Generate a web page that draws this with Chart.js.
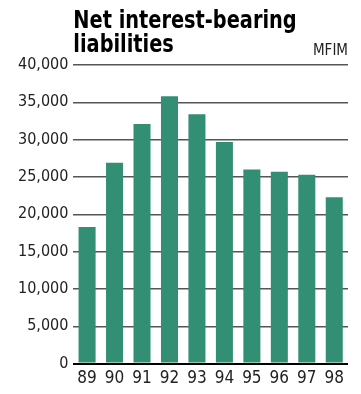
<!DOCTYPE html>
<html>
<head>
<meta charset="utf-8">
<script src="https://cdn.jsdelivr.net/npm/chart.js@4"></script>
<style>
    body { margin: 0; background: #fff; }
    #wrap { position: relative; width: 361px; height: 394px; }
</style>
</head>
<body>
<div id="wrap"><canvas id="debtChart"></canvas></div>
<script>
const years = ["89", "90", "91", "92", "93", "94", "95", "96", "97", "98"];
const liabilities = [18300, 26900, 32100, 35800, 33400, 29700, 26000, 25700, 25300, 22300];
const titleLines = ["Net interest-bearing", "liabilities"];
const unitLabel = "MFIM";

const narrow = "'DejaVu Sans Condensed', 'Liberation Sans Narrow', sans-serif";

// title + unit drawn above the plot, tied to the chart area
const headerPlugin = {
    id: "header",
    afterDraw(chart) {
        const { ctx, chartArea } = chart;
        ctx.save();
        ctx.fillStyle = "#000";
        ctx.textBaseline = "alphabetic";
        ctx.textAlign = "left";
        ctx.font = "bold 25px " + narrow;
        // squeeze horizontally, the original face is very condensed
        ctx.translate(chartArea.left, 0);
        ctx.scale(0.86, 1);
        titleLines.forEach((line, i) => {
            ctx.fillText(line, 0, 28 + i * 24);
        });
        ctx.restore();

        ctx.save();
        ctx.font = "15px " + narrow;
        ctx.fillStyle = "#222";
        ctx.textAlign = "right";
        ctx.fillText(unitLabel, chartArea.right, 55);
        ctx.restore();
    }
};

new Chart(document.getElementById("debtChart"), {
    type: "bar",
    data: {
        labels: years,
        datasets: [{
            data: liabilities,
            backgroundColor: "#328f73",
            barPercentage: 0.62,
            categoryPercentage: 1
        }]
    },
    options: {
        responsive: true,
        maintainAspectRatio: false,
        animation: false,
        layout: {
            padding: { top: 65, right: 13, left: 13, bottom: 0 }
        },
        plugins: {
            legend: { display: false },
            tooltip: { enabled: false }
        },
        scales: {
            x: {
                grid: { display: false, drawTicks: false },
                border: { display: false },
                ticks: {
                    color: "#222",
                    padding: 5,
                    font: { family: narrow, size: 17 }
                }
            },
            y: {
                min: 0,
                max: 40000,
                border: { display: false },
                grid: {
                    drawTicks: false,
                    color: ctx => ctx.tick && ctx.tick.value === 0 ? "#000" : "#555",
                    lineWidth: ctx => ctx.tick && ctx.tick.value === 0 ? 2 : 1.5
                },
                ticks: {
                    stepSize: 5000,
                    padding: 5,
                    color: "#222",
                    font: { family: narrow, size: 16 },
                    callback: v => v.toLocaleString("en-US")
                }
            }
        }
    },
    plugins: [headerPlugin]
});
</script>
</body>
</html>
